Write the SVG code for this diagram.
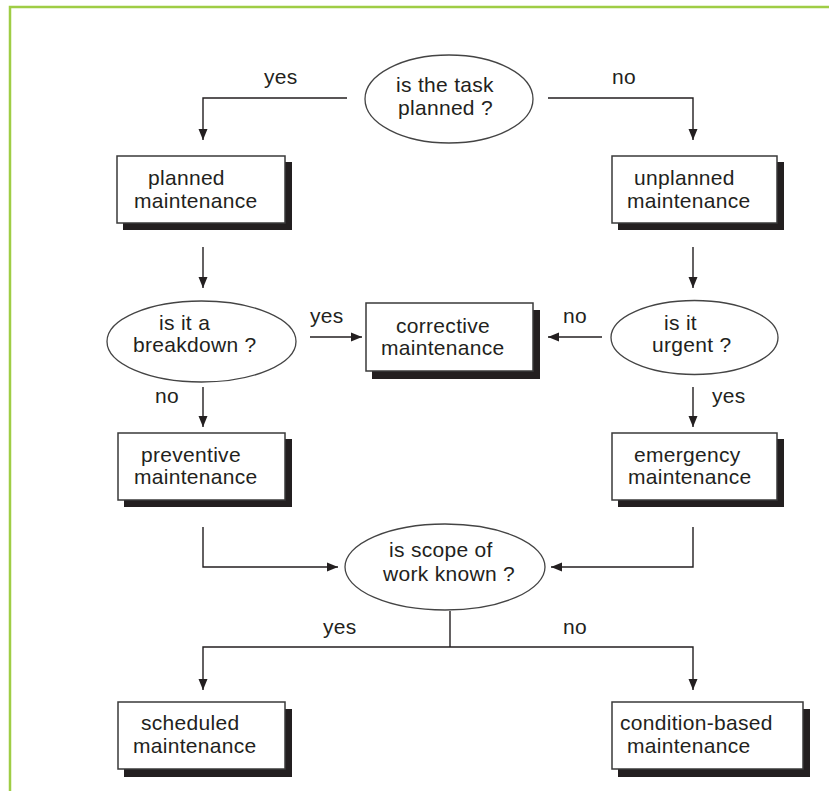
<svg xmlns="http://www.w3.org/2000/svg" width="829" height="791" viewBox="0 0 829 791">
  <style>
    .frame { fill: none; stroke: #9fcd45; stroke-width: 2.5; }
    .box { fill: #ffffff; stroke: #3a3a3a; stroke-width: 1.5; }
    .shadow { fill: #231f20; }
    .oval { fill: #ffffff; stroke: #444444; stroke-width: 1.3; }
    .lbl { font-family: "Liberation Sans", Arial, Helvetica, sans-serif; font-size: 21px; letter-spacing: 0.3px; fill: #231f20; }
    .wire { fill: none; stroke: #231f20; stroke-width: 1.4; }
  </style>
  <defs>
    <marker id="arrow" markerUnits="userSpaceOnUse" markerWidth="12" markerHeight="12" viewBox="0 0 12 12" refX="11" refY="6" orient="auto">
      <path d="M0,1.5 L11,6 L0,10.5 Z" fill="#231f20"/>
    </marker>
  </defs>

  <rect width="829" height="791" fill="#ffffff"/>
  <!-- page frame -->
  <path class="frame" d="M10,791 L10,7 L829,7"/>

  <!-- connectors -->
  <g id="connectors">
    <path class="wire" d="M347,98 L203,98 L203,140" marker-end="url(#arrow)"/>
    <path class="wire" d="M548,98 L693,98 L693,140" marker-end="url(#arrow)"/>
    <path class="wire" d="M203,247 L203,288" marker-end="url(#arrow)"/>
    <path class="wire" d="M693,247 L693,288" marker-end="url(#arrow)"/>
    <path class="wire" d="M310,337 L362,337" marker-end="url(#arrow)"/>
    <path class="wire" d="M602,337 L548,337" marker-end="url(#arrow)"/>
    <path class="wire" d="M203,387 L203,427" marker-end="url(#arrow)"/>
    <path class="wire" d="M693,387 L693,427" marker-end="url(#arrow)"/>
    <path class="wire" d="M203,527 L203,567 L338,567" marker-end="url(#arrow)"/>
    <path class="wire" d="M693,527 L693,567 L551,567" marker-end="url(#arrow)"/>
    <path class="wire" d="M450,611 L450,647"/>
    <path class="wire" d="M450,647 L203,647 L203,690" marker-end="url(#arrow)"/>
    <path class="wire" d="M450,647 L693,647 L693,690" marker-end="url(#arrow)"/>
    <text class="lbl" x="264" y="84">yes</text>
    <text class="lbl" x="612" y="84">no</text>
    <text class="lbl" x="310" y="323">yes</text>
    <text class="lbl" x="563" y="323">no</text>
    <text class="lbl" x="155" y="403">no</text>
    <text class="lbl" x="712" y="403">yes</text>
    <text class="lbl" x="323" y="634">yes</text>
    <text class="lbl" x="563" y="634">no</text>
  </g>

  <!-- decisions -->
  <g id="q-planned">
    <ellipse class="oval" cx="449" cy="99" rx="84" ry="44"/>
    <text class="lbl" x="396" y="92">is the task</text>
    <text class="lbl" x="398" y="115">planned ?</text>
  </g>
  <g id="q-breakdown">
    <ellipse class="oval" cx="201.5" cy="341.5" rx="94.5" ry="40.5"/>
    <text class="lbl" x="159" y="330">is it a</text>
    <text class="lbl" x="133" y="352">breakdown ?</text>
  </g>
  <g id="q-urgent">
    <ellipse class="oval" cx="694.5" cy="337.5" rx="83.5" ry="37"/>
    <text class="lbl" x="664" y="330">is it</text>
    <text class="lbl" x="652" y="352">urgent ?</text>
  </g>
  <g id="q-scope">
    <ellipse class="oval" cx="445" cy="567" rx="100" ry="43"/>
    <text class="lbl" x="389" y="557">is scope of</text>
    <text class="lbl" x="383" y="581">work known ?</text>
  </g>

  <!-- outcomes -->
  <g id="planned">
    <rect class="shadow" x="123" y="162" width="169" height="68"/>
    <rect class="box" x="117" y="156" width="168" height="67"/>
    <text class="lbl" x="148" y="185">planned</text>
    <text class="lbl" x="134" y="208">maintenance</text>
  </g>
  <g id="unplanned">
    <rect class="shadow" x="618" y="162" width="166" height="68"/>
    <rect class="box" x="612" y="156" width="165" height="67"/>
    <text class="lbl" x="634" y="185">unplanned</text>
    <text class="lbl" x="627" y="208">maintenance</text>
  </g>
  <g id="corrective">
    <rect class="shadow" x="372" y="310" width="168" height="69"/>
    <rect class="box" x="366" y="303" width="167" height="68"/>
    <text class="lbl" x="396" y="333">corrective</text>
    <text class="lbl" x="381" y="355">maintenance</text>
  </g>
  <g id="preventive">
    <rect class="shadow" x="124" y="439" width="168" height="68"/>
    <rect class="box" x="118" y="433" width="167" height="67"/>
    <text class="lbl" x="141" y="462">preventive</text>
    <text class="lbl" x="134" y="484">maintenance</text>
  </g>
  <g id="emergency">
    <rect class="shadow" x="618" y="439" width="166" height="68"/>
    <rect class="box" x="612" y="433" width="165" height="67"/>
    <text class="lbl" x="634" y="462">emergency</text>
    <text class="lbl" x="628" y="484">maintenance</text>
  </g>
  <g id="scheduled">
    <rect class="shadow" x="124" y="709" width="168" height="68"/>
    <rect class="box" x="118" y="702" width="167" height="67"/>
    <text class="lbl" x="141" y="730">scheduled</text>
    <text class="lbl" x="133" y="753">maintenance</text>
  </g>
  <g id="condition-based">
    <rect class="shadow" x="618" y="709" width="192" height="68"/>
    <rect class="box" x="612" y="702" width="191" height="67"/>
    <text class="lbl" x="620" y="730">condition-based</text>
    <text class="lbl" x="627" y="753">maintenance</text>
  </g>
</svg>
